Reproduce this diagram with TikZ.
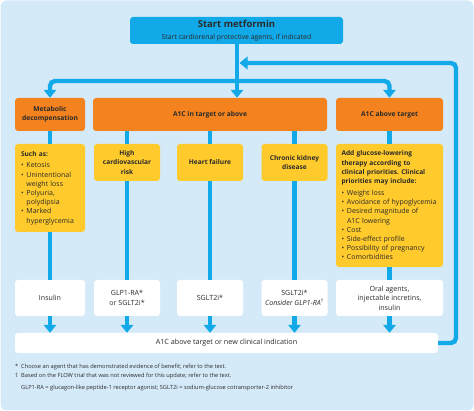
\documentclass[tikz,border=0pt]{standalone}
\usepackage{fontspec}
\setmainfont{Open Sans}
\usetikzlibrary{arrows.meta}
\definecolor{bgblue}{HTML}{D5EAF8}
\definecolor{cyanl}{HTML}{12A9E8}
\definecolor{orng}{HTML}{F4831F}
\definecolor{ylw}{HTML}{FFCA2C}
\definecolor{txt}{HTML}{2A2A2A}
\frenchspacing
\tikzset{
  box/.style={rounded corners=3pt, draw=none, align=center, inner sep=0pt, text=txt},
  obox/.style={box, fill=orng, minimum height=33, font=\bfseries\fontsize{6.7}{8.6}\selectfont},
  ybox/.style={box, fill=ylw, font=\bfseries\fontsize{6.6}{9.2}\selectfont},
  wbox/.style={box, fill=white, minimum height=36, font=\fontsize{7.1}{9.6}\selectfont},
  flow/.style={draw=cyanl, line width=4.4pt, rounded corners=5pt},
  tip/.style={-{Triangle[width=12.5pt,length=8pt]}},
  foot/.style={anchor=west, inner sep=0pt, text=txt, font=\fontsize{5.7}{7}\selectfont}
}
\newcommand{\bl}{\makebox[5.5pt][l]{•}}
\newcommand{\ind}{\hspace*{5.5pt}}
\newcommand{\reg}{\mdseries\fontsize{7.0}{9.2}\selectfont}
\begin{document}
\begin{tikzpicture}[x=1pt,y=-1pt]
\useasboundingbox (0,0) rectangle (474,411);
\fill[bgblue, rounded corners=6pt] (0.5,0.5) rectangle (473.5,410.5);

% top box
\node[box, fill=cyanl, minimum width=213, minimum height=27] (top) at (236.5,30.5)
  {{\bfseries\fontsize{9.5}{11}\selectfont Start metformin}\\[-0.5pt]{\fontsize{6.9}{8}\selectfont Start cardiorenal protective agents, if indicated}};

% orange boxes
\node[obox, minimum width=70] (o1) at (50,114.5) {Metabolic\\decompensation};
\node[obox, minimum width=234] (o2) at (210,114.5) {A1C in target or above};
\node[obox, minimum width=107] (o3) at (389.5,114.5) {A1C above target};

% yellow boxes
\node[ybox, minimum width=70, minimum height=88, text width=58, align=left] (y1) at (50,188)
  {Such as:\\[2.5pt]\reg
   \bl Ketosis\\
   \bl Unintentional\\
   \ind weight loss\\
   \bl Polyuria,\\
   \ind polydipsia\\
   \bl Marked\\
   \ind hyperglycemia};
\node[ybox, minimum width=66, minimum height=37] (y2) at (127,162.5) {High\\cardiovascular\\risk};
\node[ybox, minimum width=66, minimum height=37] (y3) at (210,162.5) {Heart failure};
\node[ybox, minimum width=66, minimum height=37] (y4) at (294.5,162.5) {Chronic kidney\\disease};
\node[ybox, minimum width=107, minimum height=123, text width=96, align=left] (y5) at (389.5,205.5)
  {Add glucose-lowering\\therapy according to\\clinical priorities. Clinical\\priorities may include:\\[2.8pt]\reg
   \mbox{\bl Weight loss}\\
   \mbox{\bl Avoidance of hypoglycemia}\\
   \mbox{\bl Desired magnitude of}\\
   \mbox{\ind A1C lowering}\\
   \mbox{\bl Cost}\\
   \mbox{\bl Side-effect profile}\\
   \mbox{\bl Possibility of pregnancy}\\
   \mbox{\bl Comorbidities}};

% white boxes
\node[wbox, minimum width=70] (w1) at (50,298) {Insulin};
\node[wbox, minimum width=66] (w2) at (127,298) {GLP1-RA*\\or SGLT2i*};
\node[wbox, minimum width=66] (w3) at (210,298) {SGLT2i*};
\node[wbox, minimum width=66] (w4) at (294.5,298) {SGLT2i*\\\textit{Consider GLP1-RA}\textsuperscript{†}};
\node[wbox, minimum width=107] (w5) at (389.5,298) {Oral agents,\\injectable incretins,\\insulin};

% bottom box
\node[box, fill=white, minimum width=423, minimum height=20, font=\fontsize{7.2}{8}\selectfont] (bot) at (226.5,343)
  {A1C above target or new clinical indication};

% connectors from top
\coordinate (hub) at (237,81);
\coordinate (rc) at (456,63);
\coordinate (fb) at (239.5,63);
\draw[flow, tip] (top.south -| hub) -- (hub |- o2.north);
\draw[flow, tip] (hub) -| (o1.north);
\draw[flow, tip] (hub) -| (o3.north);
% feedback loop
\draw[flow, tip] (bot.east) -| (rc) -- (fb);

% verticals
\draw[flow] (o1.south) -- (y1.north);
\draw[flow] (o2.south -| y2.north) -- (y2.north);
\draw[flow] (o2.south -| y3.north) -- (y3.north);
\draw[flow] (o2.south -| y4.north) -- (y4.north);
\draw[flow] (o3.south) -- (y5.north);
\draw[flow] (y1.south) -- (w1.north);
\draw[flow] (y2.south) -- (w2.north);
\draw[flow] (y3.south) -- (w3.north);
\draw[flow] (y4.south) -- (w4.north);
\draw[flow] (y5.south) -- (w5.north);
\draw[flow, tip] (w1.south) -- (w1.south |- bot.north);
\draw[flow, tip] (w2.south) -- (w2.south |- bot.north);
\draw[flow, tip] (w3.south) -- (w3.south |- bot.north);
\draw[flow, tip] (w4.south) -- (w4.south |- bot.north);
\draw[flow, tip] (w5.south) -- (w5.south |- bot.north);

% footnotes
\node[foot] (f1) at (15,367) {\makebox[6pt][l]{*}Choose an agent that has demonstrated evidence of benefit; refer to the text.};
\node[foot] (f2) at (15,376.5) {\makebox[6pt][l]{†}Based on the FLOW trial that was not reviewed for this update; refer to the text.};
\node[foot] (f3) at (21,388) {GLP1-RA = glucagon-like peptide-1 receptor agonist; SGLT2i = sodium-glucose cotransporter-2 inhibitor};
\end{tikzpicture}
\end{document}
